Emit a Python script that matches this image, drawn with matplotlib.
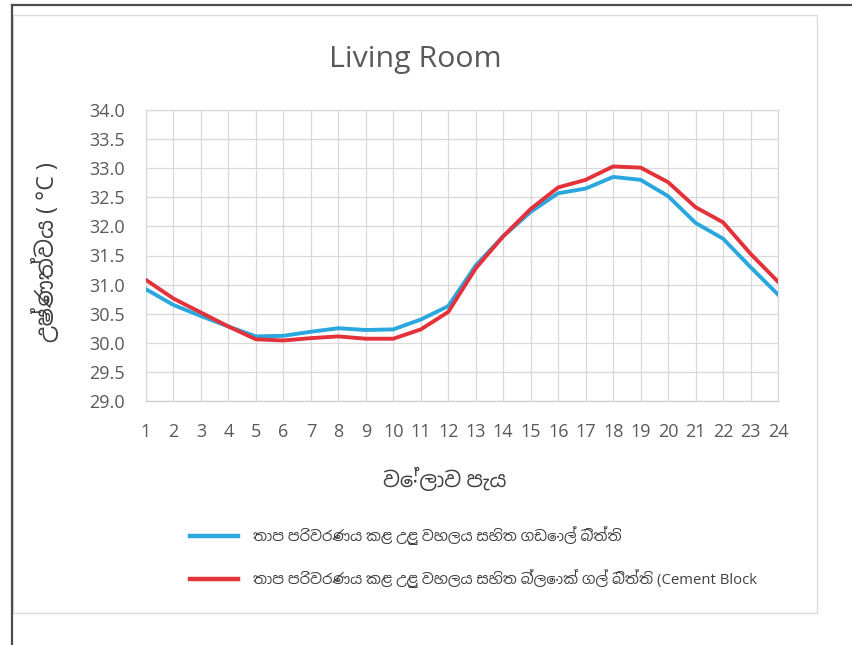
import matplotlib
matplotlib.use("Agg")
import matplotlib.pyplot as plt
from matplotlib.lines import Line2D
from matplotlib.patches import Rectangle

plt.rcParams['font.family'] = ['Open Sans', 'Noto Sans Sinhala', 'DejaVu Sans']

# Hourly indoor temperature, living room
hours = list(range(1, 25))
brick_wall = [30.92, 30.65, 30.46, 30.28, 30.11, 30.12, 30.19, 30.25, 30.22, 30.23,
              30.40, 30.63, 31.33, 31.83, 32.25, 32.57, 32.65, 32.85, 32.80, 32.52,
              32.06, 31.79, 31.30, 30.83]
block_wall = [31.08, 30.76, 30.52, 30.28, 30.06, 30.04, 30.08, 30.11, 30.07, 30.07,
              30.23, 30.53, 31.28, 31.83, 32.30, 32.67, 32.80, 33.03, 33.01, 32.76,
              32.33, 32.07, 31.53, 31.05]
y_ticks = [29.0, 29.5, 30.0, 30.5, 31.0, 31.5, 32.0, 32.5, 33.0, 33.5, 34.0]

title = "Living Room"
y_label = "උෂ්ණත්වය ( °C )"
x_label = "වේලාව පැය"
series_labels = [
    "තාප පරිවරණය කළ උළු වහලය සහිත ගඩොල් බිත්ති",
    "තාප පරිවරණය කළ උළු වහලය සහිත බ්ලොක් ගල් බිත්ති (Cement Block",
]
colors = ["#2aa7df", "#e4323b"]

W, H = 852, 645
fig = plt.figure(figsize=(W / 100, H / 100), dpi=100)
fig.patch.set_facecolor("white")


def fx(px):
    return px / W


def fy(py):
    return 1 - py / H


# Outer frame: dark rules on top and left, light chart border
fig.add_artist(Line2D([fx(11.5), fx(11.5)], [fy(5), fy(645)], color="#4d4d4d", lw=1.6))
fig.add_artist(Line2D([fx(11.5), fx(852)], [fy(5), fy(5)], color="#4d4d4d", lw=1.6))
fig.add_artist(Rectangle((fx(13), fy(613)), fx(816.5) - fx(13), fy(15) - fy(613),
                         transform=fig.transFigure, fill=False, ec="#dcdcdc", lw=1.0))

ax = fig.add_axes([fx(146), fy(401), fx(778) - fx(146), fy(110) - fy(401)])
ax.set_facecolor("white")

ax.plot(hours, brick_wall, color=colors[0], lw=2.8, solid_joinstyle="round",
        label=series_labels[0], zorder=3)
ax.plot(hours, block_wall, color=colors[1], lw=2.8, solid_joinstyle="round",
        label=series_labels[1], zorder=4)

ax.set_xlim(1, 24)
ax.set_ylim(29, 34)
ax.set_xticks(hours)
ax.set_xticklabels([str(h) for h in hours])
ax.set_yticks(y_ticks)
ax.set_yticklabels([f"{v:.1f}" for v in y_ticks])
ax.grid(True, color="#d9d9d9", lw=0.9)
ax.set_axisbelow(True)
for s in ax.spines.values():
    s.set_color("#d9d9d9")
    s.set_linewidth(0.9)
ax.spines["bottom"].set_color("#cfcfcf")
ax.tick_params(axis="both", length=0, labelsize=13, labelcolor="#595959")
ax.tick_params(axis="x", pad=16)
ax.tick_params(axis="y", pad=15)

fig.text(fx(415), fy(60), title, ha="center", va="center", fontsize=21.8, color="#595959")
fig.text(fx(46), fy(252), y_label, ha="center", va="center", rotation=90,
         fontsize=16.8, color="#404040")
fig.text(fx(445), fy(480), x_label, ha="center", va="center", fontsize=15, color="#404040")

leg = ax.legend(loc="upper left", bbox_to_anchor=(fx(190), fy(526)),
                bbox_transform=fig.transFigure, frameon=False, fontsize=10.7,
                handlelength=3.25, handletextpad=1.0, labelspacing=1.65,
                borderpad=0, borderaxespad=0)
for t in leg.get_texts():
    t.set_color("#404040")
for h in leg.get_lines():
    h.set_linewidth(3.2)

fig.savefig("out.png", dpi=100, facecolor="white")
